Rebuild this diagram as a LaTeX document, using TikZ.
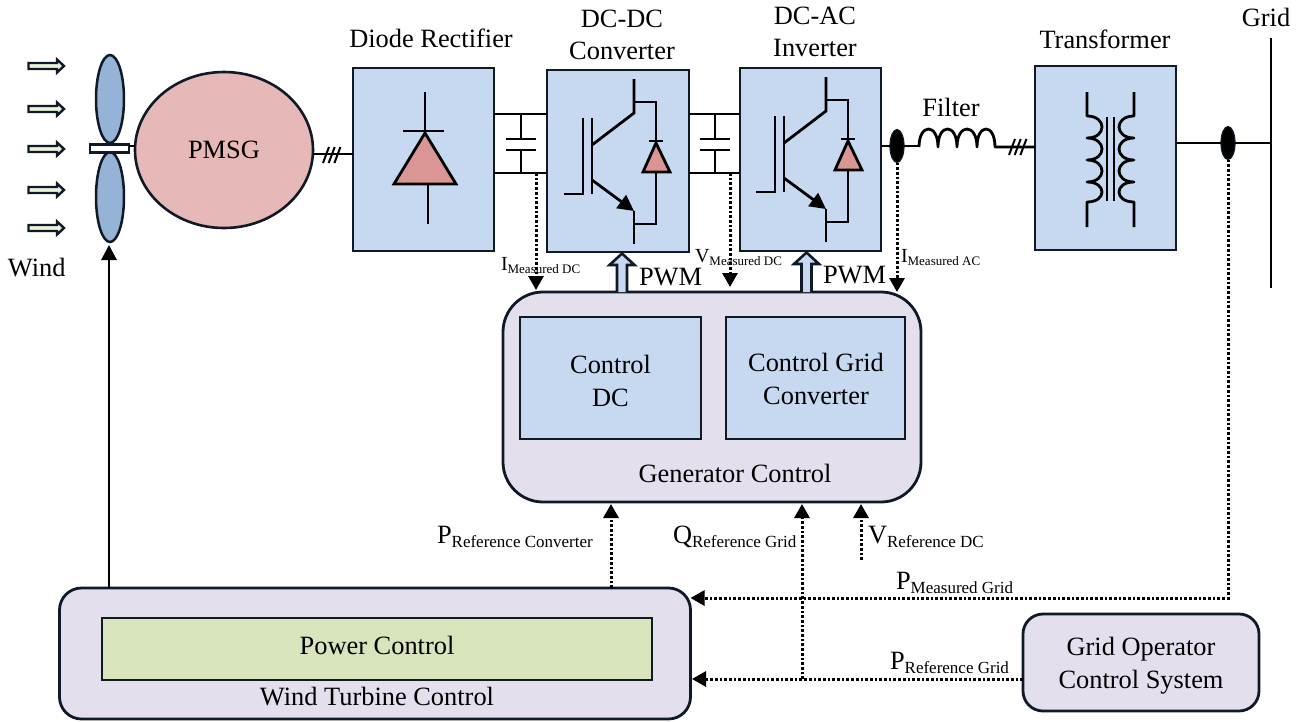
\documentclass[tikz,border=0pt]{standalone}
\usepackage{fontspec}
\setmainfont{Liberation Serif}
\usetikzlibrary{arrows.meta,shapes.geometric}
\definecolor{boxblue}{HTML}{C6D9F1}
\definecolor{ctrl}{HTML}{E4DFEC}
\definecolor{pm}{HTML}{E6B9B8}
\definecolor{tri}{HTML}{D99694}
\definecolor{blade}{HTML}{95B3D7}
\definecolor{pgreen}{HTML}{D8E4BC}
\definecolor{pale}{HTML}{EBF1DE}
\definecolor{ink}{HTML}{0F1A26}
\tikzset{
 x=1pt,y=-1pt,
 every node/.style={inner sep=0pt,outer sep=0pt,text=black,align=center,font=\fontsize{26.4}{33}\selectfont},
 blk/.style={draw=ink,line width=2.8pt,fill=boxblue},
 ctl/.style={draw=ink,line width=2.8pt,fill=ctrl,rounded corners=#1},
 wire/.style={draw=black,line width=2.8pt},
 dotline/.style={draw=black,line width=3pt,dash pattern=on 2.7pt off 2pt},
 dotarrow/.style={dotline,-{Triangle[length=14pt,width=15pt]}},
 solidarrow/.style={wire,-{Triangle[length=15pt,width=15pt]}},
 sens/.style={ellipse,draw=ink,line width=1.2pt,fill=black,minimum width=14pt,minimum height=33pt},
 lab/.style={anchor=base west},
 toplab/.style={anchor=base},
 tria/.style={draw=black,line width=2.8pt,fill=tri,line join=miter},
 hollow/.style={draw=ink,line width=2.6pt,fill=boxblue,line join=miter},
}
\newcommand{\smalllab}[2]{\fontsize{20}{24}\selectfont #1\raisebox{-3.5pt}{\fontsize{13}{13}\selectfont #2}}
\newcommand{\biglab}[2]{#1\raisebox{-4pt}{\fontsize{17}{17}\selectfont #2}}
\newcommand{\igbt}[1]{%
 \begin{scope}[shift={(#1)}]
  \draw[wire] (0,76)--(19,76)--(19,0);
  \draw[wire] (28,0)--(28,76);
  \draw[wire] (28,27)--(70,-5)--(70,-39);
  \draw[wire,-{Triangle[length=16pt,width=16pt]}] (28,62)--(70,93);
  \draw[wire] (70,93)--(70,126);
  \draw[wire] (70,-16)--(92,-16)--(92,23);
  \draw[wire] (85,23)--(99,23);
  \draw[tria] (92,25)--(106,54)--(79,54)--cycle;
  \draw[wire] (92,54)--(92,106)--(70,106);
 \end{scope}}
\newcommand{\ticks}[2]{\draw[wire,line width=2pt] (#1,#2+8)--(#1+6,#2-8) (#1+5.7,#2+8)--(#1+11.7,#2-8) (#1+11.4,#2+8)--(#1+17.4,#2-8);}
\begin{document}
\begin{tikzpicture}
\useasboundingbox (0,0) rectangle (1302,721);
% wind arrows
\foreach \y in {66,109,149,190,228}{
 \draw[draw=ink,line width=2.4pt,fill=pale,line join=miter] (28.5,\y-3)--(57,\y-3)--(57,\y-6.5)--(64,\y)--(57,\y+6.5)--(57,\y+3)--(28.5,\y+3)--cycle;}
\node[lab] (wind) at (8,276) {Wind};
% main nodes
\node[ellipse,draw=ink,line width=2.5pt,fill=blade,minimum width=28pt,minimum height=88pt] (bladeT) at (110,99) {};
\node[ellipse,draw=ink,line width=2.5pt,fill=blade,minimum width=28pt,minimum height=90pt] (bladeB) at (110,197) {};
\node[draw=ink,line width=2.4pt,fill=white,minimum width=39pt,minimum height=8pt] (hub) at (109.5,148.5) {};
\node[ellipse,draw=ink,line width=2.6pt,fill=pm,minimum width=178pt,minimum height=156pt] (pmsg) at (224,150) {PMSG};
\node[blk,minimum width=141pt,minimum height=183pt] (rect) at (423.5,159.5) {};
\node[blk,minimum width=142pt,minimum height=182pt] (dcdc) at (618,161) {};
\node[blk,minimum width=141pt,minimum height=183pt] (inv) at (810.5,159.5) {};
\node[blk,minimum width=141pt,minimum height=184pt] (trafo) at (1105.5,158) {};
\node[ctl=40pt,minimum width=418pt,minimum height=210pt] (gen) at (712,397) {};
\node[blk,minimum width=181pt,minimum height=122pt] (cdc) at (610.5,378) {};
\node[blk,minimum width=179pt,minimum height=122pt] (cgrid) at (815.5,378) {};
\node (cdclab) at (610.5,381) {Control\\DC};
\node (cgridlab) at (816,379) {Control Grid\\Converter};
\node[toplab] (genlab) at (735,482) {Generator Control};
\node[ctl=22pt,minimum width=631pt,minimum height=131pt] (wtc) at (375,653.5) {};
\node[draw=ink,line width=2.8pt,fill=pgreen,minimum width=550pt,minimum height=62pt] (pwr) at (377,649) {};
\node[toplab] (pwrlab) at (377,654) {Power Control};
\node[toplab] (wtclab) at (377,705) {Wind Turbine Control};
\node[ctl=20pt,minimum width=236pt,minimum height=97pt] (gop) at (1141,662.5) {};
\node (goplab) at (1141,666) {Grid Operator\\Control System};
\node[sens] (s1) at (897,146) {};
\node[sens] (s2) at (1228,143) {};
% top labels
\node[toplab] (l1) at (431,47) {Diode Rectifier};
\node[toplab] (l2) at (622,27) {DC-DC};
\node[toplab] (l3) at (622,59) {Converter};
\node[toplab] (l4) at (815,24) {DC-AC};
\node[toplab] (l5) at (815,56) {Inverter};
\node[toplab] (l6) at (1105,48) {Transformer};
\node[toplab] (l7) at (951,116) {Filter};
\node[toplab] (l8) at (1266,26) {Grid};
% connectors
\coordinate (hubc) at (129,146);
\draw[wire] (hubc)--(pmsg.west |- hubc);
\coordinate (genout) at (0,154);
\draw[wire] (pmsg.east |- genout)--(rect.west |- genout);
\ticks{323}{155}
\coordinate (busT) at (0,114);
\coordinate (busB) at (0,173);
\draw[wire] (rect.east |- busT)--(dcdc.west |- busT) (rect.east |- busB)--(dcdc.west |- busB);
\draw[wire] (dcdc.east |- busT)--(inv.west |- busT) (dcdc.east |- busB)--(inv.west |- busB);
% capacitors
\foreach \x in {521,715}{
 \draw[wire] (\x,114)--(\x,139) (\x-15,139)--(\x+15,139) (\x-15,150)--(\x+15,150) (\x,150)--(\x,173);}
% diode of rectifier
\draw[wire] (425,92)--(425,131) (403,131)--(444,131);
\draw[tria] (425,133)--(456,184)--(394,184)--cycle;
\draw[wire] (428,184)--(428,224);
\igbt{564,118}
\igbt{756,116}
% filter
\coordinate (filtL) at (919,146);
\coordinate (filtR) at (995,147);
\draw[wire] (inv.east |- s1)--(s1.west) (s1.east)--(filtL);
\draw[wire,line join=round] (919,147) .. controls (919,123) and (938,123) .. (938,147)
 .. controls (938,123) and (957,123) .. (957,147)
 .. controls (957,123) and (977,123) .. (977,147)
 .. controls (977,123) and (995,123) .. (filtR) -- (trafo.west |- filtR);
\ticks{1009}{147}
% transformer
\draw[wire,line join=round] (1087,92)--(1087,116)
 .. controls (1107,116) and (1107,138) .. (1087,138)
 .. controls (1107,138) and (1107,160) .. (1087,160)
 .. controls (1107,160) and (1107,182) .. (1087,182)
 .. controls (1107,182) and (1107,202) .. (1087,202)--(1087,227);
\draw[wire,line join=round] (1134,92)--(1134,116)
 .. controls (1114,116) and (1114,138) .. (1134,138)
 .. controls (1114,138) and (1114,160) .. (1134,160)
 .. controls (1114,160) and (1114,182) .. (1134,182)
 .. controls (1114,182) and (1114,202) .. (1134,202)--(1134,227);
\draw[wire] (1107,117)--(1107,201) (1114,117)--(1114,201);
% grid
\coordinate (gridT) at (1271,38);
\coordinate (gridB) at (1271,288);
\draw[wire] (gridT)--(gridB);
\draw[wire] (trafo.east |- s2)--(s2.west) (s2.east)--(gridT |- s2);
% PWM arrows
\draw[hollow] (617,292)--(617,265)--(609.5,265)--(622,253.5)--(634.5,265)--(627,265)--(627,292);
\draw[hollow] (801.5,292)--(801.5,264)--(794,264)--(806.5,252.5)--(819,264)--(811.5,264)--(811.5,292);
% dotted measured
\coordinate (mI) at (536,173);
\coordinate (mV) at (730,173);
\coordinate (aI) at (536,290);
\coordinate (aV) at (730,287);
\coordinate (aA) at (897,292);
\draw[dotarrow] (mI)--(aI);
\draw[dotarrow] (mV)--(aV);
\draw[dotarrow] (s1.south)--(aA);
\coordinate (pc) at (611,588);
\coordinate (pcT) at (611,504);
\draw[dotarrow] (pc)--(pcT);
\coordinate (qr) at (802,679);
\coordinate (qrT) at (802,504);
\draw[dotarrow] (qr)--(qrT);
\coordinate (vref) at (861,560);
\coordinate (vrefT) at (861,504);
\draw[dotarrow] (vref)--(vrefT);
\coordinate (pm1) at (690.5,598);
\draw[dotarrow,line join=miter] (s2.south)--(s2.south |- pm1)--(pm1);
\coordinate (pm2) at (692,679);
\draw[dotarrow] (gop.west |- pm2)--(pm2);
\coordinate (rotB) at (109,588);
\coordinate (rotT) at (109,245);
\draw[solidarrow] (rotB)--(rotT);
% labels
\node[lab] (t1) at (501,270) {\smalllab{I}{Measured DC}};
\node[lab] (t2) at (695,262) {\smalllab{V}{Measured DC}};
\node[lab] (t3) at (901,262) {\smalllab{I}{Measured AC}};
\node[lab] (t4) at (639,285) {PWM};
\node[lab] (t5) at (823,283) {PWM};
\node[lab] (t6) at (437,543) {\biglab{P}{Reference Converter}};
\node[lab] (t7) at (673,543) {\biglab{Q}{Reference Grid}};
\node[lab] (t8) at (868,543) {\biglab{V}{Reference DC}};
\node[lab] (t9) at (896,589) {\biglab{P}{Measured Grid}};
\node[lab] (t10) at (890,669) {\biglab{P}{Reference Grid}};
\end{tikzpicture}
\end{document}
